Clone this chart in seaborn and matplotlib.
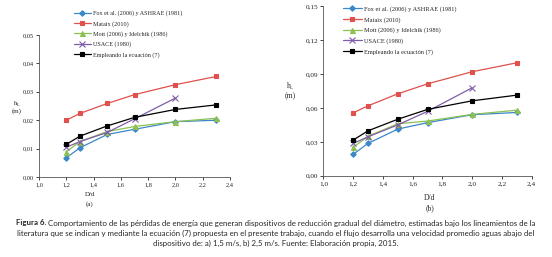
import numpy as np
import pandas as pd
import matplotlib
matplotlib.use("Agg")
import matplotlib.pyplot as plt
import seaborn as sns

# D/d ratios
x_vals = [1.2, 1.3, 1.5, 1.7, 2.0, 2.3]
x_usace = [1.2, 1.3, 1.5, 1.7, 2.0]

series_names = [
    "Fox et al. (2006) y ASHRAE (1981)",
    "Mataix (2010)",
    "Mott (2006) y Idelchik (1986)",
    "USACE (1980)",
    "Empleando la ecuación (7)",
]

# (a) velocity 1.5 m/s
a_fox = [0.0068, 0.0103, 0.0150, 0.0168, 0.0195, 0.0200]
a_mataix = [0.0200, 0.0224, 0.0259, 0.0290, 0.0325, 0.0354]
a_mott = [0.0089, 0.0125, 0.0160, 0.0178, 0.0195, 0.0207]
a_usace = [0.0105, 0.0125, 0.0157, 0.0205, 0.0278]
a_eq7 = [0.0115, 0.0144, 0.0180, 0.0210, 0.0238, 0.0254]

# (b) velocity 2.5 m/s
b_fox = [0.0190, 0.0287, 0.0413, 0.0470, 0.0540, 0.0560]
b_mataix = [0.0557, 0.0619, 0.0725, 0.0813, 0.0920, 0.0999]
b_mott = [0.0251, 0.0350, 0.0460, 0.0484, 0.0543, 0.0580]
b_usace = [0.0286, 0.0345, 0.0450, 0.0570, 0.0778]
b_eq7 = [0.0316, 0.0398, 0.0500, 0.0587, 0.0663, 0.0713]

colors = ["#3a88c8", "#e0504c", "#8cc152", "#7e5ea8", "#000000"]
markers = ["D", "s", "^", "x", "s"]
msizes = [2.8, 3.4, 3.6, 3.8, 3.4]


def build(fox, mataix, mott, usace, eq7):
    parts = []
    for name, xs, ys in zip(series_names,
                            [x_vals, x_vals, x_vals, x_usace, x_vals],
                            [fox, mataix, mott, usace, eq7]):
        parts.append(pd.DataFrame({"x": xs, "y": ys, "serie": name}))
    return pd.concat(parts, ignore_index=True)


df_a = build(a_fox, a_mataix, a_mott, a_usace, a_eq7)
df_b = build(b_fox, b_mataix, b_mott, b_usace, b_eq7)

sns.set_style("ticks")
plt.rcParams["font.family"] = ["Liberation Serif", "DejaVu Serif"]

fig = plt.figure(figsize=(5.52, 2.57), dpi=100)
ax_a = fig.add_axes([0.0707, 0.311, 0.346, 0.553])
ax_b = fig.add_axes([0.586, 0.316, 0.377, 0.660])


def draw(ax, df, ymax, ystep, lsize):
    for i, name in enumerate(series_names):
        sub = df[df["serie"] == name]
        sns.lineplot(data=sub, x="x", y="y", ax=ax, color=colors[i],
                     marker=markers[i], markersize=msizes[i],
                     markeredgecolor=colors[i], markeredgewidth=0.8,
                     linewidth=0.9, label=name)
    ax.set_xlim(1.0, 2.4)
    ax.set_ylim(0, ymax)
    xt = np.arange(1.0, 2.41, 0.2)
    yt = np.arange(0, ymax + 1e-9, ystep)
    ax.set_xticks(xt)
    ax.set_yticks(yt)
    ax.set_xticklabels([f"{v:.1f}".replace(".", ",") for v in xt])
    ax.set_yticklabels([f"{v:.2f}".replace(".", ",") for v in yt])
    ax.tick_params(labelsize=lsize, length=2, width=0.6, pad=2)
    for s in ["top", "right"]:
        ax.spines[s].set_visible(False)
    for s in ["left", "bottom"]:
        ax.spines[s].set_linewidth(0.6)
        ax.spines[s].set_color("#555555")
    ax.set_xlabel("")
    ax.set_ylabel("")


draw(ax_a, df_a, 0.05, 0.01, 4.6)
draw(ax_b, df_b, 0.15, 0.03, 5.2)

ax_a.legend(loc="upper left", bbox_to_anchor=(0.17, 1.19), frameon=False,
            fontsize=4.4, handlelength=2.8, handletextpad=0.3,
            labelspacing=0.75, borderaxespad=0)
ax_b.legend(loc="upper left", bbox_to_anchor=(0.08, 1.015), frameon=False,
            fontsize=4.6, handlelength=3.0, handletextpad=0.3,
            labelspacing=0.75, borderaxespad=0)

hl = "h$_\\mathregular{L}$\n(m)"
fig.text(17 / 552, 1 - 107 / 257, hl, ha="center", va="center",
         fontsize=5, linespacing=1.0)
fig.text(290 / 552, 1 - 90 / 257, hl, ha="center", va="center",
         fontsize=5.5, linespacing=1.0)
fig.text(90 / 552, 1 - 195 / 257, "D/d", ha="center", va="center", fontsize=5)
fig.text(90 / 552, 1 - 204 / 257, "(a)", ha="center", va="center", fontsize=5)
fig.text(430 / 552, 1 - 198 / 257, "D/d", ha="center", va="center", fontsize=5.5)
fig.text(430 / 552, 1 - 208 / 257, "(b)", ha="center", va="center", fontsize=5.5)

# caption
cap_font = ["Lato", "DejaVu Sans"]
cap_size = 5.7
line1_bold = "Figura 6."
line1 = (" Comportamiento de las pérdidas de energía que generan dispositivos de "
         "reducción gradual del diámetro, estimadas bajo los lineamientos de la")
line2 = ("literatura que se indican y mediante la ecuación (7) propuesta en el "
         "presente trabajo, cuando el flujo desarrolla una velocidad promedio aguas abajo del")
line3 = "dispositivo de: a) 1,5 m/s, b) 2,5 m/s. Fuente: Elaboración propia, 2015."

renderer = fig.canvas.get_renderer()
tb = fig.text(0, 0, line1_bold, fontsize=cap_size, family=cap_font,
              fontweight="bold")
tr = fig.text(0, 0, line1, fontsize=cap_size, family=cap_font)
wb = tb.get_window_extent(renderer).width
wr = tr.get_window_extent(renderer).width
x0 = (552 - wb - wr) / 2
tb.set_position((x0 / 552, 1 - 223 / 257))
tb.set_va("center")
tr.set_position(((x0 + wb) / 552, 1 - 223 / 257))
tr.set_va("center")
fig.text(0.5, 1 - 233 / 257, line2, fontsize=cap_size, family=cap_font,
         ha="center", va="center")
fig.text(0.5, 1 - 243 / 257, line3, fontsize=cap_size, family=cap_font,
         ha="center", va="center")

fig.savefig("out.png", dpi=100)
